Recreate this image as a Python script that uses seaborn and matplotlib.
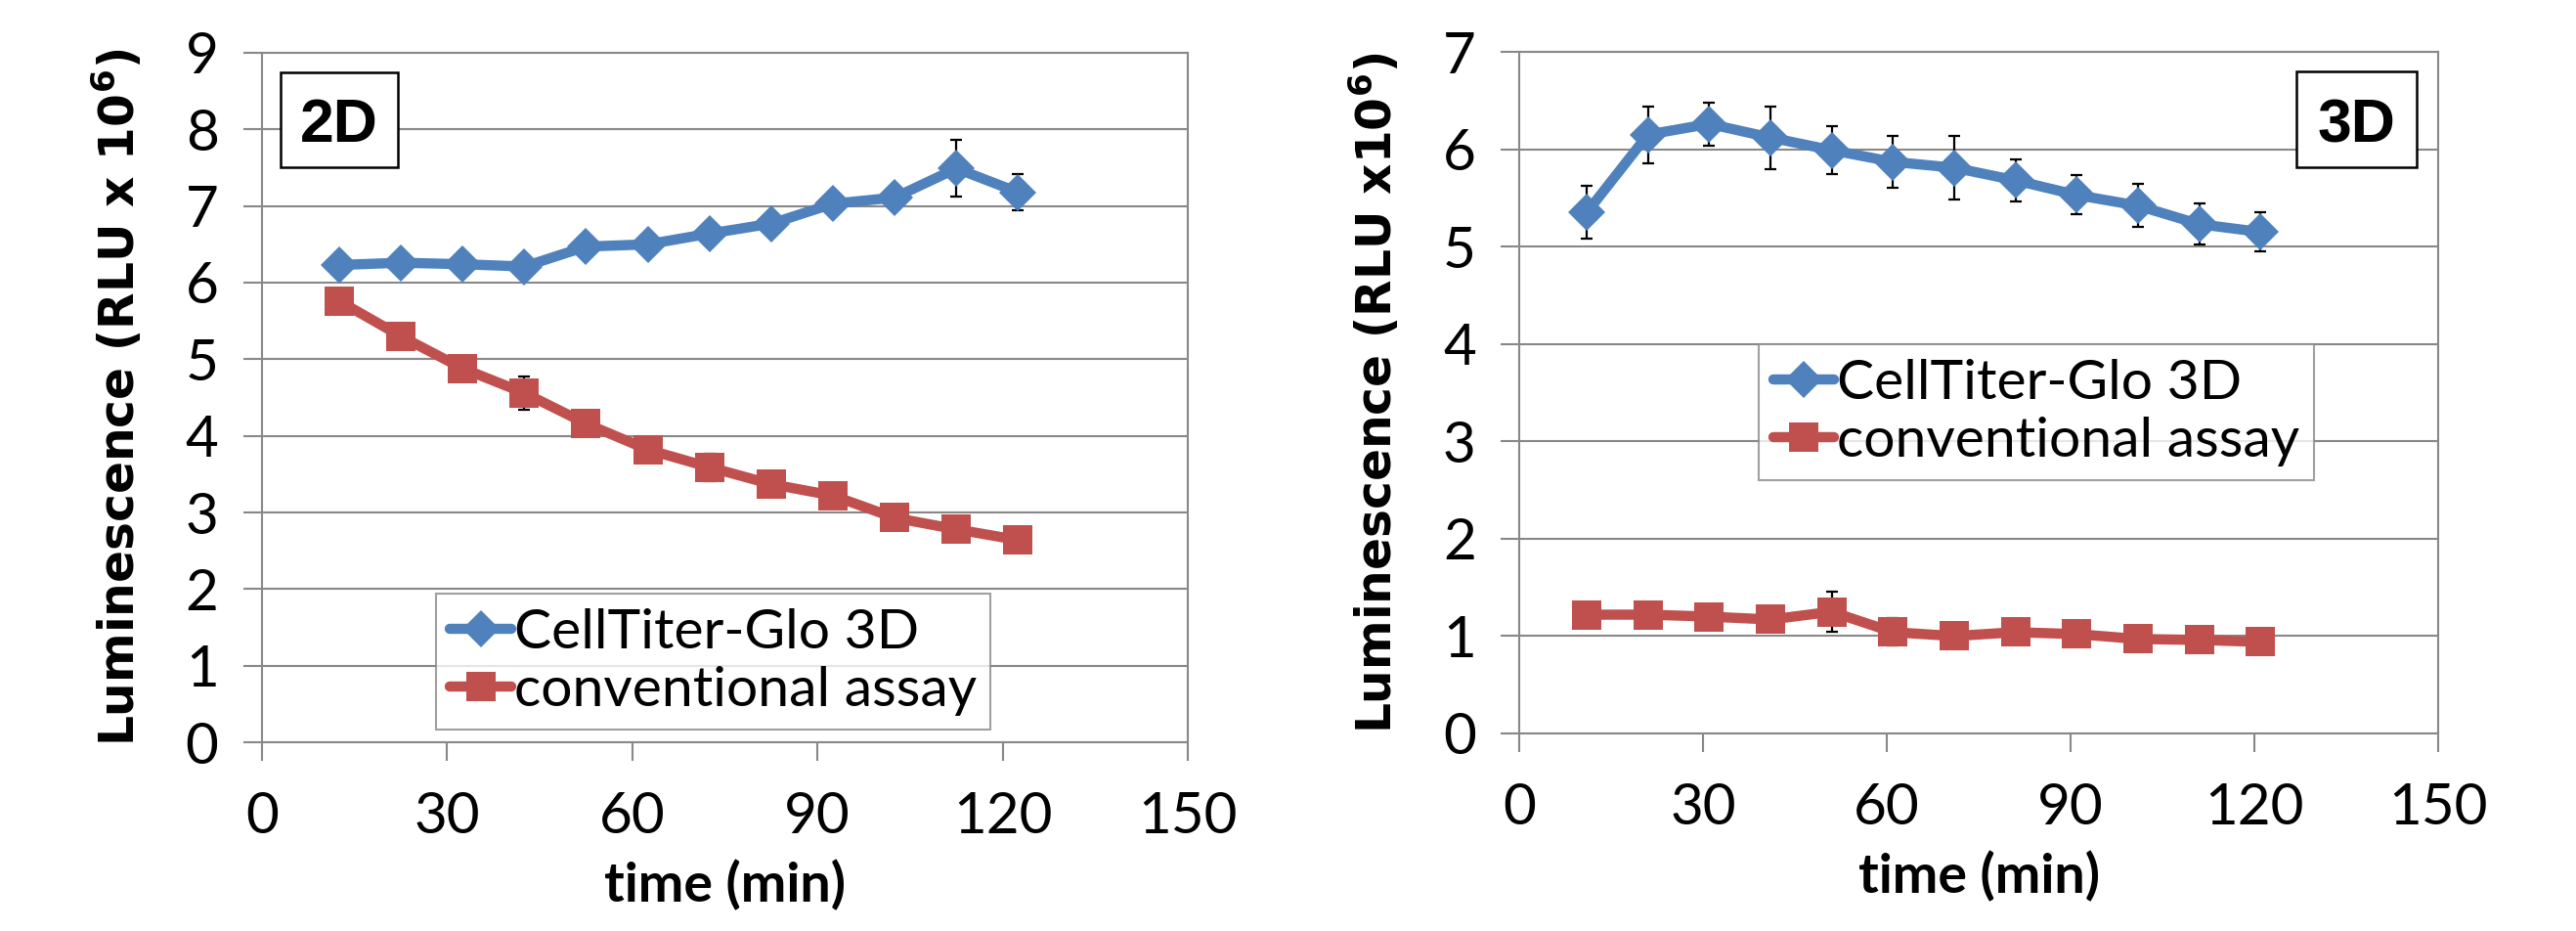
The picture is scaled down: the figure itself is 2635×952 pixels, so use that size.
import numpy as np
import pandas as pd
import seaborn as sns
import matplotlib.pyplot as plt
from matplotlib.patches import Rectangle

# 2D data
t2d = [12.5, 22.5, 32.5, 42.5, 52.5, 62.5, 72.5, 82.5, 92.5, 102.5, 112.5, 122.5]
ctg_2d = [6.23, 6.26, 6.24, 6.21, 6.47, 6.50, 6.64, 6.77, 7.03, 7.11, 7.49, 7.18]
ctg_2d_err = [0.05, 0.05, 0.05, 0.05, 0.05, 0.05, 0.05, 0.05, 0.05, 0.05, 0.37, 0.24]
conv_2d = [5.76, 5.30, 4.88, 4.56, 4.16, 3.82, 3.59, 3.37, 3.22, 2.93, 2.78, 2.64]
conv_2d_err = [0.05, 0.05, 0.05, 0.22, 0.05, 0.05, 0.18, 0.05, 0.05, 0.05, 0.05, 0.05]

# 3D data
t3d = [11, 21, 31, 41, 51, 61, 71, 81, 91, 101, 111, 121]
ctg_3d = [5.35, 6.15, 6.26, 6.12, 5.99, 5.87, 5.81, 5.68, 5.53, 5.42, 5.23, 5.15]
ctg_3d_err = [0.27, 0.29, 0.22, 0.32, 0.25, 0.27, 0.33, 0.22, 0.20, 0.22, 0.21, 0.20]
conv_3d = [1.22, 1.22, 1.20, 1.17, 1.25, 1.04, 1.00, 1.04, 1.02, 0.97, 0.96, 0.94]
conv_3d_err = [0.05, 0.05, 0.05, 0.05, 0.21, 0.14, 0.05, 0.05, 0.05, 0.05, 0.05, 0.05]

series_names = ['CellTiter-Glo 3D', 'conventional assay']
blue = '#4F81BD'
red = '#C0504D'

sns.set_style("white")
plt.rcParams['font.family'] = ['Lato', 'DejaVu Sans']
for k in ['text.color', 'axes.labelcolor', 'xtick.color', 'ytick.color']:
    plt.rcParams[k] = 'black'

fig = plt.figure(figsize=(26.35, 9.52), dpi=100)
ax1 = fig.add_axes([0.1017, 0.2027, 0.3594, 0.7406])
ax2 = fig.add_axes([0.5898, 0.2122, 0.3567, 0.7321])


def draw(ax, t, ctg, ctg_err, conv, conv_err, ymax, ylabel, tag, box, leg_anchor):
    for y, e in [(ctg, ctg_err), (conv, conv_err)]:
        ax.errorbar(t, y, yerr=e, fmt='none', ecolor='black', elinewidth=1.6,
                    capsize=4.5, capthick=1.6, zorder=1)
    for name, y, c, m, ms in [(series_names[0], ctg, blue, 'D', 19),
                              (series_names[1], conv, red, 's', 21)]:
        df = pd.DataFrame({'time': t, 'lum': y})
        sns.lineplot(data=df, x='time', y='lum', color=c, marker=m, markersize=ms,
                     markeredgewidth=0, linewidth=7.5, label=name, ax=ax, zorder=2)
    ax.set_xlim(0, 150)
    ax.set_ylim(0, ymax)
    ax.set_xticks(range(0, 151, 30))
    ax.set_yticks(range(0, ymax + 1))
    ax.yaxis.grid(True, color='#888888', linewidth=1.5)
    ax.set_axisbelow(True)
    for s in ax.spines.values():
        s.set_color('#888888')
        s.set_linewidth(1.5)
    ax.tick_params(axis='both', labelsize=42, length=14, width=1.5, color='#888888',
                   labelcolor='black', direction='out', bottom=True, left=True)
    ax.tick_params(axis='y', pad=18)
    ax.tick_params(axis='x', pad=22)
    ax.set_xlabel('time (min)', fontsize=40, fontweight='bold', labelpad=12)
    ax.set_ylabel(ylabel, fontsize=35, fontweight='bold', family='DejaVu Sans',
                  math_fontfamily='dejavusans', labelpad=30)
    x0, y0, x1, y1 = box
    ax.add_patch(Rectangle((x0, y0), x1 - x0, y1 - y0, transform=ax.transAxes,
                           facecolor='white', edgecolor='black', linewidth=1.8, zorder=5))
    ax.text((x0 + x1) / 2, (y0 + y1) / 2, tag, transform=ax.transAxes, fontsize=45,
            fontweight='bold', family='Liberation Sans', ha='center', va='center_baseline',
            zorder=6)
    leg = ax.legend(loc='lower left', bbox_to_anchor=leg_anchor, fontsize=41,
                    frameon=True, fancybox=False, edgecolor='#888888', handlelength=1.1,
                    handletextpad=0.05, borderpad=0.25, labelspacing=0.15, borderaxespad=0)
    leg.get_frame().set_linewidth(1.5)


draw(ax1, t2d, ctg_2d, ctg_2d_err, conv_2d, conv_2d_err, 9,
     'Luminescence (RLU x 10$^{\\mathbf{6}}$)', '2D', (0.020, 0.834, 0.147, 0.972), (0.188, 0.018))
draw(ax2, t3d, ctg_3d, ctg_3d_err, conv_3d, conv_3d_err, 7,
     'Luminescence (RLU x10$^{\\mathbf{6}}$)', '3D', (0.846, 0.831, 0.977, 0.971), (0.261, 0.371))

fig.savefig('out.png', dpi=100)
